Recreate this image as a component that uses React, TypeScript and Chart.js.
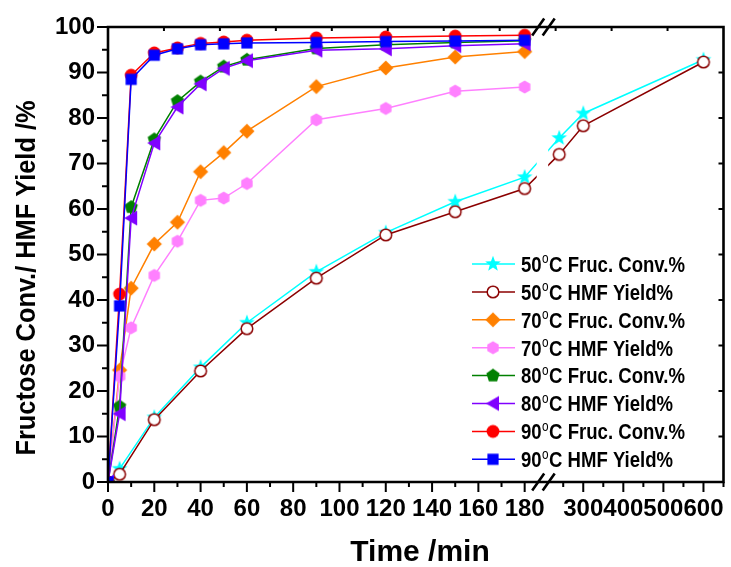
import React, { useEffect, useRef } from 'react';
import { Chart, registerables } from 'chart.js';
Chart.register(...registerables);

// ---- data ----
const TIME_50 = [0, 5, 20, 40, 60, 90, 120, 150, 180, 240, 300, 600];
const TIME_HI = [0, 5, 10, 20, 30, 40, 50, 60, 90, 120, 150, 180];
const FRUC_50 = [0, 2.9, 14.2, 25.2, 35.0, 46.2, 54.8, 61.6, 67.0, 75.6, 81.0, 92.8];
const HMF_50 = [0, 1.7, 13.7, 24.4, 33.7, 44.8, 54.3, 59.4, 64.5, 72.0, 78.3, 92.3];
const FRUC_70 = [0, 24.6, 42.6, 52.3, 57.1, 68.2, 72.4, 77.1, 86.9, 91.0, 93.4, 94.6];
const HMF_70 = [0, 23.2, 33.9, 45.4, 52.9, 61.9, 62.4, 65.6, 79.6, 82.1, 85.9, 86.8];
const FRUC_80 = [0, 16.6, 60.4, 75.3, 83.7, 88.0, 91.3, 92.8, 95.3, 96.1, 96.6, 97.0];
const HMF_80 = [0, 15.0, 58.0, 74.5, 82.4, 87.5, 90.9, 92.6, 94.9, 95.2, 95.9, 96.3];
const FRUC_90 = [0, 41.3, 89.4, 94.3, 95.4, 96.4, 96.7, 97.1, 97.6, 97.8, 98.0, 98.2];
const HMF_90 = [0, 38.7, 88.5, 93.8, 95.2, 96.1, 96.3, 96.5, 96.6, 96.8, 96.9, 97.1];

const LEGEND_TEMPS = ['50', '50', '70', '70', '80', '80', '90', '90'];
const LEGEND_TEXT = ['Fruc. Conv.%', 'HMF Yield%', 'Fruc. Conv.%', 'HMF Yield%', 'Fruc. Conv.%', 'HMF Yield%', 'Fruc. Conv.%', 'HMF Yield%'];

const X_TICKS = [0, 20, 40, 60, 80, 100, 120, 140, 160, 180, 300, 400, 500, 600];
const X_TICK_LABELS = ['0', '20', '40', '60', '80', '100', '120', '140', '160', '180', '300', '400', '500', '600'];
const Y_TICK_STEP = 10;

// broken axis: [0,188] // [200,650]
const LEFT_END = 188;
const RIGHT_START = 200;
const RIGHT_END = 650;
const K = 0.1731;
const toD = (t: number) => (t <= LEFT_END ? t : LEFT_END + (t - RIGHT_START) * K);

const FONT = '"Liberation Sans", Arial, Helvetica, sans-serif';

function makeMarker(kind: string, fill: string, stroke?: string): HTMLCanvasElement {
  const S = 20;
  const c = document.createElement('canvas');
  c.width = S;
  c.height = S;
  const g = c.getContext('2d')!;
  g.translate(S / 2, S / 2);
  g.beginPath();
  const poly = (n: number, r: number, a0: number) => {
    for (let i = 0; i < n; i++) {
      const a = a0 + (i * 2 * Math.PI) / n;
      const x = r * Math.cos(a), y = r * Math.sin(a);
      if (i === 0) g.moveTo(x, y); else g.lineTo(x, y);
    }
    g.closePath();
  };
  if (kind === 'star') {
    const R = 8.2, r = 3.4;
    for (let i = 0; i < 10; i++) {
      const a = -Math.PI / 2 + (i * Math.PI) / 5;
      const rr = i % 2 === 0 ? R : r;
      const x = rr * Math.cos(a), y = rr * Math.sin(a);
      if (i === 0) g.moveTo(x, y); else g.lineTo(x, y);
    }
    g.closePath();
  } else if (kind === 'circle') {
    g.arc(0, 0, 6.4, 0, Math.PI * 2);
  } else if (kind === 'ocircle') {
    g.arc(0, 0, 5.8, 0, Math.PI * 2);
  } else if (kind === 'diamond') {
    poly(4, 7.6, -Math.PI / 2);
  } else if (kind === 'hexagon') {
    poly(6, 6.6, -Math.PI / 2);
  } else if (kind === 'pentagon') {
    poly(5, 7.0, -Math.PI / 2);
  } else if (kind === 'ltri') {
    g.moveTo(-7, 0);
    g.lineTo(6, -7.5);
    g.lineTo(6, 7.5);
    g.closePath();
  } else if (kind === 'square') {
    g.rect(-5.6, -5.6, 11.2, 11.2);
  }
  g.fillStyle = fill;
  g.fill();
  if (stroke) {
    g.lineWidth = 1.5;
    g.strokeStyle = stroke;
    g.stroke();
  }
  return c;
}

const SERIES = [
  { times: TIME_50, values: FRUC_50, color: '#00FFFF', kind: 'star', fill: '#00FFFF' },
  { times: TIME_50, values: HMF_50, color: '#8B0000', kind: 'ocircle', fill: '#FFFFFF', stroke: '#8B0000' },
  { times: TIME_HI, values: FRUC_70, color: '#FF8000', kind: 'diamond', fill: '#FF8000' },
  { times: TIME_HI, values: HMF_70, color: '#FF80FF', kind: 'hexagon', fill: '#FF80FF' },
  { times: TIME_HI, values: FRUC_80, color: '#008000', kind: 'pentagon', fill: '#008000' },
  { times: TIME_HI, values: HMF_80, color: '#8000FF', kind: 'ltri', fill: '#8000FF' },
  { times: TIME_HI, values: FRUC_90, color: '#FF0000', kind: 'circle', fill: '#FF0000' },
  { times: TIME_HI, values: HMF_90, color: '#0000FF', kind: 'square', fill: '#0000FF' },
];

export default function App() {
  const ref = useRef<HTMLCanvasElement>(null);
  useEffect(() => {
    if (!ref.current) return;
    const markers = SERIES.map((s) => makeMarker(s.kind, s.fill, (s as any).stroke));

    const decor = {
      id: 'decor',
      afterDatasetsDraw(chart: any) {
        const { ctx, chartArea: a } = chart;
        const xs = chart.scales.x;
        const bx = xs.getPixelForValue(toD(LEFT_END));
        ctx.save();
        ctx.fillStyle = '#FFFFFF';
        ctx.fillRect(bx - 6.5, a.top + 2, 11.5, a.bottom - a.top - 4);
        ctx.restore();
      },
      afterDraw(chart: any) {
        const { ctx, chartArea: a } = chart;
        const xs = chart.scales.x;
        const ys = chart.scales.y;
        ctx.save();
        ctx.strokeStyle = '#000';
        ctx.lineCap = 'butt';
        // frame
        ctx.lineWidth = 2.6;
        ctx.beginPath();
        ctx.moveTo(a.left, a.top);
        ctx.lineTo(a.right, a.top);
        ctx.lineTo(a.right, a.bottom);
        ctx.lineTo(a.left, a.bottom);
        ctx.closePath();
        ctx.stroke();
        // y ticks
        ctx.lineWidth = 2;
        ctx.beginPath();
        for (let v = 0; v <= 100; v += 5) {
          const py = ys.getPixelForValue(v);
          const len = v % 10 === 0 ? 11 : 6;
          ctx.moveTo(a.left - len, py);
          ctx.lineTo(a.left, py);
          if (v % 10 === 0 && v > 0 && v < 100) {
            ctx.moveTo(a.right, py);
            ctx.lineTo(a.right - 5, py);
          }
        }
        // x ticks, left segment
        for (let t = 0; t <= 180; t += 10) {
          const px = xs.getPixelForValue(toD(t));
          const len = t % 20 === 0 ? 10 : 5;
          ctx.moveTo(px, a.bottom);
          ctx.lineTo(px, a.bottom + len);
        }
        // x ticks, right segment
        for (let t = 250; t <= RIGHT_END; t += 50) {
          const px = xs.getPixelForValue(toD(t));
          const len = t % 100 === 0 ? 10 : 5;
          ctx.moveTo(px, a.bottom);
          ctx.lineTo(px, a.bottom + len);
        }
        // top ticks
        const n = 11;
        for (let k = 1; k < n; k++) {
          const px = a.left + ((a.right - a.left) * k) / n;
          ctx.moveTo(px, a.top);
          ctx.lineTo(px, a.top + 4);
        }
        ctx.stroke();
        // break marks
        const bx = xs.getPixelForValue(toD(LEFT_END));
        ctx.lineWidth = 2.6;
        ctx.beginPath();
        for (const cy of [a.top, a.bottom]) {
          for (const cx of [bx - 5, bx + 5.5]) {
            ctx.moveTo(cx - 6, cy + 8.5);
            ctx.lineTo(cx + 6, cy - 8.5);
          }
        }
        ctx.stroke();

        // legend
        const lx0 = 472, lx1 = 515, mx = 493, tx = 521;
        const rowY0 = 264, rowH = 27.9;
        SERIES.forEach((s, i) => {
          const y = rowY0 + i * rowH;
          ctx.strokeStyle = s.color;
          ctx.lineWidth = 1.5;
          ctx.beginPath();
          ctx.moveTo(lx0, y);
          ctx.lineTo(lx1, y);
          ctx.stroke();
          const m = markers[i];
          ctx.drawImage(m, mx - m.width / 2, y - m.height / 2);
          // text
          ctx.save();
          ctx.fillStyle = '#000';
          ctx.textBaseline = 'alphabetic';
          ctx.textAlign = 'left';
          const big = `bold 22px ${FONT}`;
          const small = `14px ${FONT}`;
          const rest = 'C ' + LEGEND_TEXT[i];
          ctx.font = big;
          const w1 = ctx.measureText(LEGEND_TEMPS[i]).width;
          const w3 = ctx.measureText(rest).width;
          ctx.font = small;
          const w2 = ctx.measureText('o').width;
          const target = LEGEND_TEXT[i].startsWith('Fruc') ? 164 : 152;
          const sc = target / (w1 + w2 + w3 + 1);
          ctx.translate(tx, y + 7.8);
          ctx.scale(sc, 1);
          let x = 0;
          ctx.font = big;
          ctx.fillText(LEGEND_TEMPS[i], x, 0);
          x += w1 + 0.5;
          ctx.font = small;
          ctx.fillText('o', x, -8.5);
          x += w2 + 0.5;
          ctx.font = big;
          ctx.fillText(rest, x, 0);
          ctx.restore();
        });

        // axis titles
        ctx.fillStyle = '#000';
        ctx.font = `bold 30px ${FONT}`;
        ctx.textAlign = 'center';
        ctx.textBaseline = 'alphabetic';
        ctx.fillText('Time /min', 420, 561);

        ctx.save();
        ctx.translate(35, 278);
        ctx.rotate(-Math.PI / 2);
        ctx.font = `bold 27px ${FONT}`;
        const yt = 'Fructose Conv./ HMF Yield /%';
        const w = ctx.measureText(yt).width;
        ctx.scale(355 / w, 1);
        ctx.textAlign = 'center';
        ctx.fillText(yt, 0, 0);
        ctx.restore();
        ctx.restore();
      },
    };

    const datasets = SERIES.map((s, i) => ({
      label: `${LEGEND_TEMPS[i]}°C ${LEGEND_TEXT[i]}`,
      data: s.times.map((t, j) => ({ x: toD(t), y: s.values[j] })),
      borderColor: s.color,
      backgroundColor: s.fill,
      borderWidth: 1.5,
      pointStyle: markers[i] as any,
      pointRadius: 6,
      tension: 0,
      order: 10 - i,
    }));

    const chart = new Chart(ref.current, {
      type: 'line',
      data: { datasets },
      options: {
        animation: false,
        responsive: false,
        layout: { padding: { left: 0, right: 4, top: 27, bottom: 0 } },
        plugins: { legend: { display: false }, tooltip: { enabled: false }, title: { display: false } },
        scales: {
          x: {
            type: 'linear',
            min: 0,
            max: toD(RIGHT_END),
            afterBuildTicks: (axis: any) => {
              axis.ticks = X_TICKS.map((t) => ({ value: toD(t) }));
            },
            afterFit: (axis: any) => {
              axis.height = 85;
            },
            ticks: {
              autoSkip: false,
              maxRotation: 0,
              minRotation: 0,
              padding: 3,
              color: '#000',
              font: { family: FONT, size: 24, weight: 'bold' },
              callback: (_v: any, idx: number) => X_TICK_LABELS[idx],
            },
            grid: { display: true, drawOnChartArea: false, color: 'rgba(0,0,0,0)', tickLength: 10 },
            border: { display: false },
          },
          y: {
            type: 'linear',
            min: 0,
            max: 100,
            afterFit: (axis: any) => {
              axis.width = 108;
            },
            ticks: {
              stepSize: Y_TICK_STEP,
              padding: 2,
              color: '#000',
              font: { family: FONT, size: 24, weight: 'bold' },
            },
            grid: { display: true, drawOnChartArea: false, color: 'rgba(0,0,0,0)', tickLength: 11 },
            border: { display: false },
          },
        },
      },
      plugins: [decor],
    });
    return () => chart.destroy();
  }, []);

  return (
    <div style={{ position: 'absolute', left: 0, top: 0, width: 731, height: 567, background: '#fff' }}>
      <canvas ref={ref} width={731} height={567} style={{ display: 'block' }} />
    </div>
  );
}
